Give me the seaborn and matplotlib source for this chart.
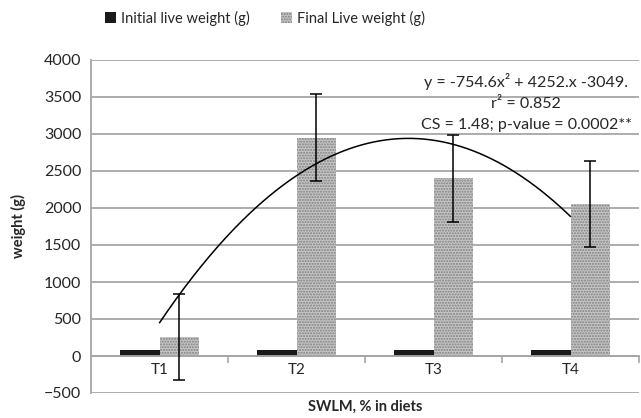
import numpy as np
import pandas as pd
import matplotlib
matplotlib.use("Agg")
import matplotlib.pyplot as plt
import seaborn as sns
from matplotlib.patches import Patch

categories = ["T1", "T2", "T3", "T4"]
initial_weight = [75, 75, 78, 75]
final_weight = [255, 2950, 2400, 2050]
final_err = [585, 585, 585, 580]
trend_coef = [-754.6, 4252.0, -3049.0]  # y = a x^2 + b x + c, x = 1..4
series_names = ["Initial live weight (g)", "Final Live weight (g)"]
eq_lines = ["y = -754.6x\u00b2 + 4252.x -3049.", "r\u00b2 = 0.852",
            "CS = 1.48; p-value = 0.0002**"]

sns.set_style("white")
plt.rcParams["font.family"] = ["Lato", "DejaVu Sans"]

df = pd.DataFrame({
    "cat": categories * 2,
    "val": initial_weight + final_weight,
    "series": [series_names[0]] * 4 + [series_names[1]] * 4,
})

fig = plt.figure(figsize=(6.41, 4.18), dpi=100)
ax = fig.add_axes([91 / 641, 1 - 393 / 418, 548 / 641, 333 / 418])

sns.barplot(data=df, x="cat", y="val", hue="series", order=categories,
            hue_order=series_names, palette=["#1a1a1a", "#c6c6c6"],
            width=0.57, gap=0, errorbar=None, ax=ax, legend=False,
            zorder=3)

n = len(categories)
patches = ax.patches
for p in patches[:n]:
    p.set_linewidth(0)
final_x = []
for p in patches[n:2 * n]:
    p.set_hatch("......")
    p.set_edgecolor("#7f7f7f")
    p.set_linewidth(0)
    final_x.append(p.get_x() + p.get_width() / 2)

ax.errorbar(final_x, final_weight, yerr=final_err, fmt="none",
            ecolor="black", elinewidth=1.1, capsize=4, capthick=1.1, zorder=5)

# polynomial trendline over category positions
xs = np.linspace(1, len(categories), 200)
ys = np.polyval(trend_coef, xs)
ax.plot(xs - 1, ys, color="black", lw=1.1, zorder=6)

ax.set_ylim(-500, 4000)
ax.set_yticks(np.arange(-500, 4001, 500))
ax.set_xlim(-0.5, 3.5)
ax.yaxis.grid(True, color="#a6a6a6", lw=1.3)
ax.set_axisbelow(True)
for s in ["top", "right"]:
    ax.spines[s].set_visible(False)
ax.spines["left"].set_color("#a6a6a6")
ax.spines["left"].set_linewidth(1.3)
ax.spines["bottom"].set_position(("data", 0))
ax.spines["bottom"].set_color("#a6a6a6")
ax.spines["bottom"].set_linewidth(1.3)
ax.spines["bottom"].set_zorder(4)

ax.set_xticks(range(n))
ax.set_xticklabels(categories)
ax.set_xticks([0.5, 1.5, 2.5, 3.5], minor=True)
ax.tick_params(axis="x", which="major", length=0, labelsize=11, pad=5,
               labelcolor="#262626")
ax.tick_params(axis="x", which="minor", length=5, width=1.2,
               color="#a6a6a6", direction="out")
ax.tick_params(axis="y", length=4, width=1.2, color="#a6a6a6",
               labelsize=11.5, labelcolor="#262626", pad=3)
ax.tick_params(axis="x", bottom=True, which="both")

ax.set_xlabel("SWLM, % in diets", fontsize=10.5, fontweight="bold", color="#262626")
ax.xaxis.set_label_coords(0.5, -0.02)
ax.set_ylabel("weight (g)", fontsize=10.5, fontweight="bold", color="#262626")
ax.yaxis.set_label_coords(-0.118, 0.5)

# equation text
for i, line in enumerate(eq_lines):
    fig.text(526 / 641, 1 - (82 + i * 21.5) / 418, line, ha="center",
             va="center", fontsize=11.5, color="#262626")

# legend
handles = [Patch(facecolor="#1a1a1a", linewidth=0),
           Patch(facecolor="#c6c6c6", hatch="......", edgecolor="#7f7f7f",
                 linewidth=0)]
fig.legend(handles, series_names, loc="center", ncol=2,
           bbox_to_anchor=(265 / 641, 1 - 18 / 418), frameon=False,
           fontsize=10.5, handlelength=0.75, handleheight=0.75,
           handletextpad=0.3, columnspacing=2.2, labelcolor="#262626")

fig.savefig("out.png", dpi=100)
